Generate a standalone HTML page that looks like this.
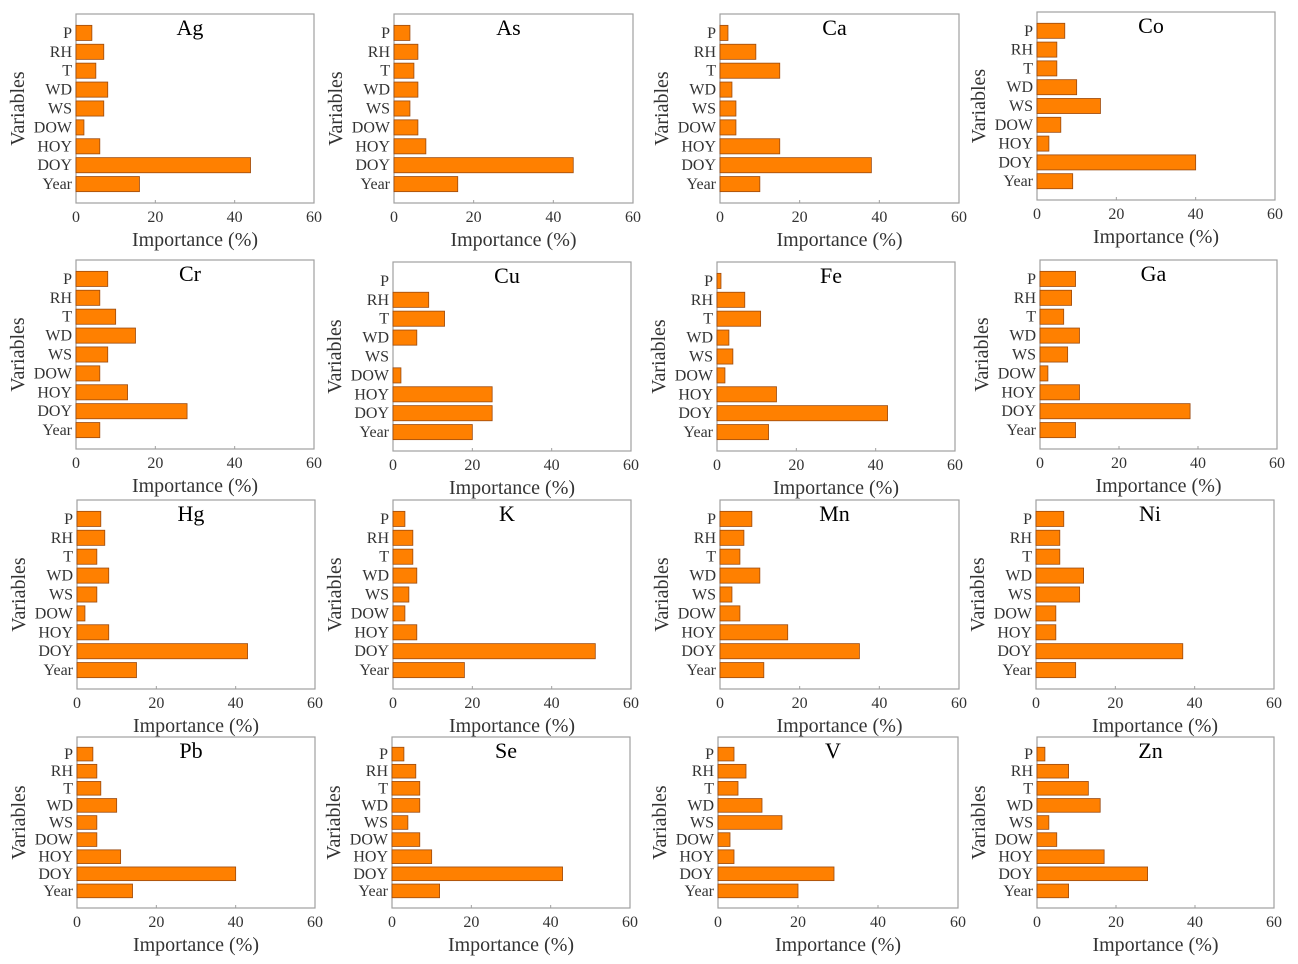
<!DOCTYPE html>
<html><head><meta charset="utf-8"><style>
body{margin:0;background:#fff;}
svg{display:block;font-family:"Liberation Serif",serif;}
</style></head><body>
<svg id="chart" width="1298" height="964"></svg>
<script>
const categories = ["P","RH","T","WD","WS","DOW","HOY","DOY","Year"];
const elements = ["Ag","As","Ca","Co","Cr","Cu","Fe","Ga","Hg","K","Mn","Ni","Pb","Se","V","Zn"];
const xTicks = [0,20,40,60];
const vAg=[4,7,5,8,7,2,6,44,16];
const vAs=[4,6,5,6,4,6,8,45,16];
const vCa=[2,9,15,3,4,4,15,38,10];
const vCo=[7,5,5,10,16,6,3,40,9];
const vCr=[8,6,10,15,8,6,13,28,6];
const vCu=[0,9,13,6,0,2,25,25,20];
const vFe=[1,7,11,3,4,2,15,43,13];
const vGa=[9,8,6,10,7,2,10,38,9];
const vHg=[6,7,5,8,5,2,8,43,15];
const vK=[3,5,5,6,4,3,6,51,18];
const vMn=[8,6,5,10,3,5,17,35,11];
const vNi=[7,6,6,12,11,5,5,37,10];
const vPb=[4,5,6,10,5,5,11,40,14];
const vSe=[3,6,7,7,4,7,10,43,12];
const vV=[4,7,5,11,16,3,4,29,20];
const vZn=[2,8,13,16,3,5,17,28,8];
const values=[vAg,vAs,vCa,vCo,vCr,vCu,vFe,vGa,vHg,vK,vMn,vNi,vPb,vSe,vV,vZn];
const boxes=[[76,14,314,203],[394,14,633,203],[720,14,959,203],[1037,12,1275,200],
[76,260,314,449],[393,262,631,451],[717,262,955,451],[1040,260,1277,449],
[77,500,315,689],[393,500,631,689],[720,500,959,689],[1036,500,1274,689],
[77,737,315,908],[392,737,630,908],[718,737,958,908],[1037,737,1274,908]];
const NS="http://www.w3.org/2000/svg";
const svg=document.getElementById('chart');
function mk(tag,attrs,parent,text){const e=document.createElementNS(NS,tag);for(const k in attrs)e.setAttribute(k,attrs[k]);if(text!==undefined)e.textContent=text;parent.appendChild(e);return e;}
elements.forEach((el,pi)=>{
  const [x0,y0,x1,y1]=boxes[pi];
  const g=mk('g',{},svg);
  
  
  const xs=v=>x0+(v-xTicks[0])/(xTicks[xTicks.length-1]-xTicks[0])*(x1-x0);
  const slot=(y1-y0)/10;
  const ys=i=>y0+(i+1)*slot;
  const frame=mk('rect',{x:x0,y:y0,width:x1-x0,height:y1-y0,fill:'none',stroke:'#a0a0a0','stroke-width':1.2},g);
  
  
  const bh=slot*0.8;
  values[pi].forEach((v,i)=>{
    if(v<=0)return;
    const b=mk('rect',{x:x0,y:ys(i)-bh/2,width:xs(v)-x0,height:bh,fill:'#ff8000',stroke:'#9a4a10','stroke-width':0.8},g);
    
    
  });
  categories.forEach((c,i)=>{
    const t=mk('text',{x:x0-4,y:ys(i)+5,'text-anchor':'end','font-size':16,fill:'#333'},g,c);
    
    
  });
  xTicks.forEach(tv=>{
    mk('line',{x1:xs(tv),x2:xs(tv),y1:y1,y2:y1-3,stroke:'#a0a0a0'},g);
    const t=mk('text',{x:xs(tv),y:y1+19,'text-anchor':'middle','font-size':16,fill:'#333'},g,String(tv));
    
    
  });
  const xl=mk('text',{x:(x0+x1)/2,y:y1+43,'text-anchor':'middle','font-size':20,fill:'#333'},g,'Importance (%)');
  
  
  const yl=mk('text',{x:0,y:0,'text-anchor':'middle','font-size':20,fill:'#333',transform:`translate(${x0-52},${(y0+y1)/2}) rotate(-90)`},g,'Variables');
  
  
  const tt=mk('text',{x:(x0+x1)/2-5,y:y0+21,'text-anchor':'middle','font-size':22,fill:'#000'},g,el);
  
  
});
</script>
</body></html>
